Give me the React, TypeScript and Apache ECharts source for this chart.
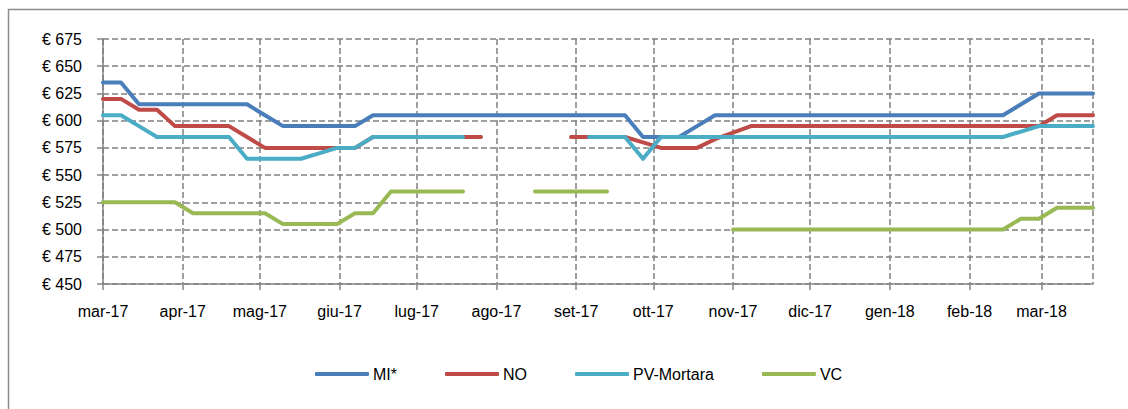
import React, { useEffect, useRef } from "react";
import * as echarts from "echarts";

const dates = [
  "2017-03-01", "2017-03-08", "2017-03-15", "2017-03-22", "2017-03-29",
  "2017-04-05", "2017-04-12", "2017-04-19", "2017-04-26",
  "2017-05-03", "2017-05-10", "2017-05-17", "2017-05-24", "2017-05-31",
  "2017-06-07", "2017-06-14", "2017-06-21", "2017-06-28",
  "2017-07-05", "2017-07-12", "2017-07-19", "2017-07-26",
  "2017-08-02", "2017-08-09", "2017-08-16", "2017-08-23", "2017-08-30",
  "2017-09-06", "2017-09-13", "2017-09-20", "2017-09-27",
  "2017-10-04", "2017-10-11", "2017-10-18", "2017-10-25",
  "2017-11-01", "2017-11-08", "2017-11-15", "2017-11-22", "2017-11-29",
  "2017-12-06", "2017-12-13", "2017-12-20", "2017-12-27",
  "2018-01-03", "2018-01-10", "2018-01-17", "2018-01-24", "2018-01-31",
  "2018-02-07", "2018-02-14", "2018-02-21", "2018-02-28",
  "2018-03-07", "2018-03-14", "2018-03-21",
];

const seriesNames = ["MI*", "NO", "PV-Mortara", "VC"];

const mi = [
  635, 635, 615, 615, 615, 615, 615, 615, 615, 605,
  595, 595, 595, 595, 595, 605, 605, 605, 605, 605,
  605, 605, 605, 605, 605, 605, 605, 605, 605, 605,
  585, 585, 585, 595, 605, 605, 605, 605, 605, 605,
  605, 605, 605, 605, 605, 605, 605, 605, 605, 605,
  605, 615, 625, 625, 625, 625,
];

const no = [
  620, 620, 610, 610, 595, 595, 595, 595, 585, 575,
  575, 575, 575, 575, 575, 585, 585, 585, 585, 585,
  585, 585, null, null, null, null, 585, 585, 585, 585,
  580, 575, 575, 575, 583, 589, 595, 595, 595, 595,
  595, 595, 595, 595, 595, 595, 595, 595, 595, 595,
  595, 595, 595, 605, 605, 605,
];

const pv = [
  605, 605, 595, 585, 585, 585, 585, 585, 565, 565,
  565, 565, 570, 575, 575, 585, 585, 585, 585, 585,
  585, null, null, null, null, null, null, 585, 585, 585,
  565, 585, 585, 585, 585, 585, 585, 585, 585, 585,
  585, 585, 585, 585, 585, 585, 585, 585, 585, 585,
  585, 590, 595, 595, 595, 595,
];

const vc = [
  525, 525, 525, 525, 525, 515, 515, 515, 515, 515,
  505, 505, 505, 505, 515, 515, 535, 535, 535, 535,
  535, null, null, null, 535, 535, 535, 535, 535, null,
  null, null, null, null, null, 500, 500, 500, 500, 500,
  500, 500, 500, 500, 500, 500, 500, 500, 500, 500,
  500, 510, 510, 520, 520, 520,
];

const monthLabels = ["gen", "feb", "mar", "apr", "mag", "giu", "lug", "ago", "set", "ott", "nov", "dic"];

const colors = ["#4A7EBB", "#BE4B48", "#4BACC6", "#98B954"];

function toTime(s: string) {
  const [y, m, d] = s.split("-").map(Number);
  return new Date(y, m - 1, d).getTime();
}

export default function App() {
  const ref = useRef<HTMLDivElement>(null);

  useEffect(() => {
    if (!ref.current) return;
    const chart = echarts.init(ref.current, null, { renderer: "svg" });
    const values = [mi, no, pv, vc];
    const font = "Liberation Sans";
    const day = 86400000;
    chart.setOption({
      animation: false,
      textStyle: { fontFamily: font },
      graphic: [
        {
          type: "polyline",
          shape: { points: [[8.5, 409], [8.5, 9.5], [1128, 9.5]] },
          style: { stroke: "#8c8c8c", lineWidth: 1.5, fill: null },
          silent: true,
        },
      ],
      grid: { left: 103, top: 39, width: 990, height: 245, containLabel: false },
      legend: {
        left: 310,
        top: 361,
        icon: "roundRect",
        itemWidth: 54,
        itemHeight: 4,
        itemGap: 48,
        textStyle: { fontFamily: font, fontSize: 16, color: "#000", padding: [0, 0, 0, -1] },
        data: seriesNames,
      },
      xAxis: {
        type: "time",
        min: toTime("2017-03-01"),
        max: toTime("2018-03-21"),
        splitNumber: 13,
        minInterval: 28 * day,
        maxInterval: 31 * day,
        axisLine: { show: true, lineStyle: { color: "#868686", width: 1.5 } },
        axisTick: { show: true, length: 6, lineStyle: { color: "#868686", width: 1.5 } },
        axisLabel: {
          fontFamily: font,
          fontSize: 16,
          color: "#000",
          margin: 19,
          showMaxLabel: false,
          formatter: (v: number) => {
            const d = new Date(v);
            return monthLabels[d.getMonth()] + "-" + String(d.getFullYear()).slice(2);
          },
        },
        splitLine: { show: true, lineStyle: { color: "#808080", width: 1.5, type: [6, 3] } },
      },
      yAxis: {
        type: "value",
        min: 450,
        max: 675,
        interval: 25,
        axisLine: { show: true, lineStyle: { color: "#868686", width: 1.5 } },
        axisTick: { show: true, length: 6, lineStyle: { color: "#868686", width: 1.5 } },
        axisLabel: {
          fontFamily: font,
          fontSize: 16,
          color: "#000",
          margin: 21,
          formatter: (v: number) => "€ " + v,
        },
        splitLine: { show: true, lineStyle: { color: "#808080", width: 1.5, type: [6, 3] } },
      },
      series: seriesNames.map((name, i) => ({
        name,
        type: "line",
        showSymbol: false,
        symbol: "none",
        connectNulls: false,
        color: colors[i],
        lineStyle: { color: colors[i], width: 4, cap: "round", join: "round" },
        data: dates.map((d, j) => [toTime(d), values[i][j]]),
      })),
    });
    return () => chart.dispose();
  }, []);

  return (
    <div
      ref={ref}
      style={{ position: "fixed", left: 0, top: 0, width: 1128, height: 409, background: "#fff" }}
    />
  );
}
